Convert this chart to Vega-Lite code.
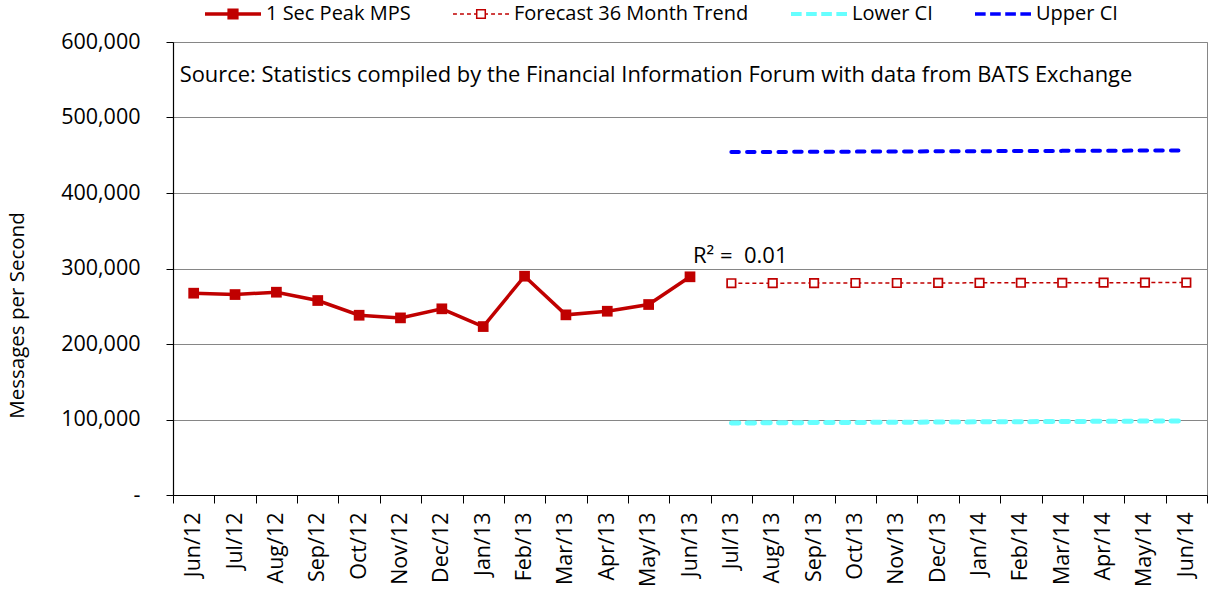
{
  "$schema": "https://vega.github.io/schema/vega-lite/v6.json",
  "width": 1034,
  "height": 453,
  "autosize": {"type": "none"},
  "padding": {"left": 173, "top": 42, "right": 3, "bottom": 99},
  "background": "white",
  "config": {
    "font": "Open Sans",
    "view": {"stroke": "#868686", "strokeWidth": 1},
    "axis": {"labelFont": "Open Sans", "titleFont": "Open Sans", "labelColor": "#000000", "titleColor": "#000000"}
  },
  "datasets": {
    "series": [
      {"month": "Jun/12", "series": "1 Sec Peak MPS", "value": 267300},
      {"month": "Jul/12", "series": "1 Sec Peak MPS", "value": 265500},
      {"month": "Aug/12", "series": "1 Sec Peak MPS", "value": 268600},
      {"month": "Sep/12", "series": "1 Sec Peak MPS", "value": 257600},
      {"month": "Oct/12", "series": "1 Sec Peak MPS", "value": 238100},
      {"month": "Nov/12", "series": "1 Sec Peak MPS", "value": 234600},
      {"month": "Dec/12", "series": "1 Sec Peak MPS", "value": 246600},
      {"month": "Jan/13", "series": "1 Sec Peak MPS", "value": 223100},
      {"month": "Feb/13", "series": "1 Sec Peak MPS", "value": 289800},
      {"month": "Mar/13", "series": "1 Sec Peak MPS", "value": 238600},
      {"month": "Apr/13", "series": "1 Sec Peak MPS", "value": 243400},
      {"month": "May/13", "series": "1 Sec Peak MPS", "value": 252300},
      {"month": "Jun/13", "series": "1 Sec Peak MPS", "value": 289000},
      {"month": "Jul/13", "series": "Forecast 36 Month Trend", "value": 280500},
      {"month": "Aug/13", "series": "Forecast 36 Month Trend", "value": 280600},
      {"month": "Sep/13", "series": "Forecast 36 Month Trend", "value": 280700},
      {"month": "Oct/13", "series": "Forecast 36 Month Trend", "value": 280800},
      {"month": "Nov/13", "series": "Forecast 36 Month Trend", "value": 280800},
      {"month": "Dec/13", "series": "Forecast 36 Month Trend", "value": 280900},
      {"month": "Jan/14", "series": "Forecast 36 Month Trend", "value": 281000},
      {"month": "Feb/14", "series": "Forecast 36 Month Trend", "value": 281100},
      {"month": "Mar/14", "series": "Forecast 36 Month Trend", "value": 281100},
      {"month": "Apr/14", "series": "Forecast 36 Month Trend", "value": 281200},
      {"month": "May/14", "series": "Forecast 36 Month Trend", "value": 281300},
      {"month": "Jun/14", "series": "Forecast 36 Month Trend", "value": 281400},
      {"month": "Jul/13", "series": "Lower CI", "value": 95400},
      {"month": "Aug/13", "series": "Lower CI", "value": 95600},
      {"month": "Sep/13", "series": "Lower CI", "value": 95900},
      {"month": "Oct/13", "series": "Lower CI", "value": 96100},
      {"month": "Nov/13", "series": "Lower CI", "value": 96400},
      {"month": "Dec/13", "series": "Lower CI", "value": 96600},
      {"month": "Jan/14", "series": "Lower CI", "value": 96900},
      {"month": "Feb/14", "series": "Lower CI", "value": 97100},
      {"month": "Mar/14", "series": "Lower CI", "value": 97400},
      {"month": "Apr/14", "series": "Lower CI", "value": 97600},
      {"month": "May/14", "series": "Lower CI", "value": 97900},
      {"month": "Jun/14", "series": "Lower CI", "value": 98100},
      {"month": "Jul/13", "series": "Upper CI", "value": 454200},
      {"month": "Aug/13", "series": "Upper CI", "value": 454400},
      {"month": "Sep/13", "series": "Upper CI", "value": 454600},
      {"month": "Oct/13", "series": "Upper CI", "value": 454800},
      {"month": "Nov/13", "series": "Upper CI", "value": 455000},
      {"month": "Dec/13", "series": "Upper CI", "value": 455200},
      {"month": "Jan/14", "series": "Upper CI", "value": 455400},
      {"month": "Feb/14", "series": "Upper CI", "value": 455600},
      {"month": "Mar/14", "series": "Upper CI", "value": 455800},
      {"month": "Apr/14", "series": "Upper CI", "value": 456000},
      {"month": "May/14", "series": "Upper CI", "value": 456200},
      {"month": "Jun/14", "series": "Upper CI", "value": 456400}
    ]
  },
  "data": {"name": "series"},
  "encoding": {
    "x": {
      "field": "month", "type": "ordinal",
      "scale": {
        "type": "band", "paddingInner": 0, "paddingOuter": 0,
        "domain": ["Jun/12","Jul/12","Aug/12","Sep/12","Oct/12","Nov/12","Dec/12","Jan/13","Feb/13","Mar/13","Apr/13","May/13","Jun/13","Jul/13","Aug/13","Sep/13","Oct/13","Nov/13","Dec/13","Jan/14","Feb/14","Mar/14","Apr/14","May/14","Jun/14"]
      },
      "axis": {
        "title": null, "grid": false, "labelAngle": -90, "labelFontSize": 21.5, "labelPadding": 9,
        "tickBand": "extent", "tickSize": 8, "tickColor": "#000000", "domainColor": "#000000", "tickWidth": 1, "domainWidth": 1.2
      }
    },
    "y": {
      "field": "value", "type": "quantitative",
      "scale": {"domain": [0, 600000], "nice": false, "zero": true},
      "axis": {
        "title": "Messages per Second", "titleFontSize": 20.5, "titleFontWeight": "normal",
        "titleAngle": -90, "titleAlign": "center", "titleBaseline": "middle", "titleX": -156, "titleY": 273,
        "values": [0, 100000, 200000, 300000, 400000, 500000, 600000],
        "labelExpr": "datum.value === 0 ? '-' : format(datum.value, ',')",
        "labelFontSize": 21.5, "labelPadding": 26, "tickSize": 7, "tickColor": "#000000",
        "domainColor": "#000000", "domainWidth": 1.2,
        "grid": true, "gridColor": "#868686", "gridWidth": 1
      }
    }
  },
  "layer": [
    {
      "transform": [{"filter": "datum.series === 'Upper CI'"}],
      "mark": {"type": "line", "color": "#0000FF", "strokeWidth": 4, "strokeDash": [7.5, 8.2], "strokeCap": "round"}
    },
    {
      "transform": [{"filter": "datum.series === 'Lower CI'"}],
      "mark": {"type": "line", "color": "#66FFFF", "strokeWidth": 5, "strokeDash": [7.5, 8.2], "strokeCap": "round"}
    },
    {
      "transform": [{"filter": "datum.series === 'Forecast 36 Month Trend'"}],
      "mark": {"type": "line", "color": "#C00000", "strokeWidth": 1.5, "strokeDash": [4, 3]}
    },
    {
      "transform": [{"filter": "datum.series === 'Forecast 36 Month Trend'"}],
      "mark": {"type": "point", "shape": "square", "size": 72, "filled": false, "fill": "white", "fillOpacity": 1, "stroke": "#C00000", "strokeWidth": 1.7, "opacity": 1}
    },
    {
      "transform": [{"filter": "datum.series === '1 Sec Peak MPS'"}],
      "mark": {"type": "line", "color": "#C00000", "strokeWidth": 3.5}
    },
    {
      "transform": [{"filter": "datum.series === '1 Sec Peak MPS'"}],
      "mark": {"type": "point", "shape": "square", "size": 115, "filled": true, "color": "#C00000", "opacity": 1}
    },
    {
      "mark": {"type": "point", "filled": true, "opacity": 0},
      "encoding": {
        "color": {
          "field": "series", "type": "nominal",
          "scale": {"domain": ["1 Sec Peak MPS", "Forecast 36 Month Trend", "Lower CI", "Upper CI"], "range": ["#C00000", "#C00000", "#66FFFF", "#0000FF"]},
          "legend": {
            "title": null, "orient": "none", "direction": "horizontal", "columns": 4,
            "legendX": 32, "legendY": -56, "padding": 0,
            "symbolSize": 3136, "symbolOpacity": 1, "symbolStrokeWidth": 0,
            "labelFontSize": 20, "labelColor": "#000000", "labelOffset": 5, "labelLimit": 400,
            "columnPadding": 42
          }
        },
        "shape": {
          "field": "series", "type": "nominal",
          "scale": {
            "domain": ["1 Sec Peak MPS", "Forecast 36 Month Trend", "Lower CI", "Upper CI"],
            "range": [
              "M-1,-0.0625H1V0.0625H-1Z M-0.2,-0.2H0.2V0.2H-0.2Z",
              "M-1,-0.027H-0.86V0.027H-1Z M-0.75,-0.027H-0.61V0.027H-0.75Z M-0.5,-0.027H-0.36V0.027H-0.5Z M-0.25,-0.027H-0.18V0.027H-0.25Z M0.18,-0.027H0.25V0.027H0.18Z M0.36,-0.027H0.5V0.027H0.36Z M0.61,-0.027H0.75V0.027H0.61Z M0.86,-0.027H1V0.027H0.86Z M-0.18,-0.18H0.18V0.18H-0.18Z M-0.126,-0.126V0.126H0.126V-0.126Z",
              "M-1,-0.075H-0.62V0.075H-1Z M-0.46,-0.075H-0.08V0.075H-0.46Z M0.08,-0.075H0.46V0.075H0.08Z M0.62,-0.075H1V0.075H0.62Z",
              "M-1,-0.065H-0.62V0.065H-1Z M-0.46,-0.065H-0.08V0.065H-0.46Z M0.08,-0.065H0.46V0.065H0.08Z M0.62,-0.065H1V0.065H0.62Z"
            ]
          },
          "legend": null
        }
      }
    },
    {
      "data": {"values": [{"month": "Jun/12", "value": 556000, "label": "Source: Statistics compiled by the Financial Information Forum with data from BATS Exchange"}]},
      "mark": {"type": "text", "align": "left", "baseline": "middle", "dx": -14, "fontSize": 21.9, "font": "Open Sans", "color": "#000000"},
      "encoding": {"text": {"field": "label"}}
    },
    {
      "data": {"values": [{"month": "Jun/13", "value": 316000, "label": "R² = \u00a00.01"}]},
      "mark": {"type": "text", "align": "left", "baseline": "middle", "dx": 3, "fontSize": 22, "font": "Open Sans", "color": "#000000"},
      "encoding": {"text": {"field": "label"}}
    }
  ]
}
